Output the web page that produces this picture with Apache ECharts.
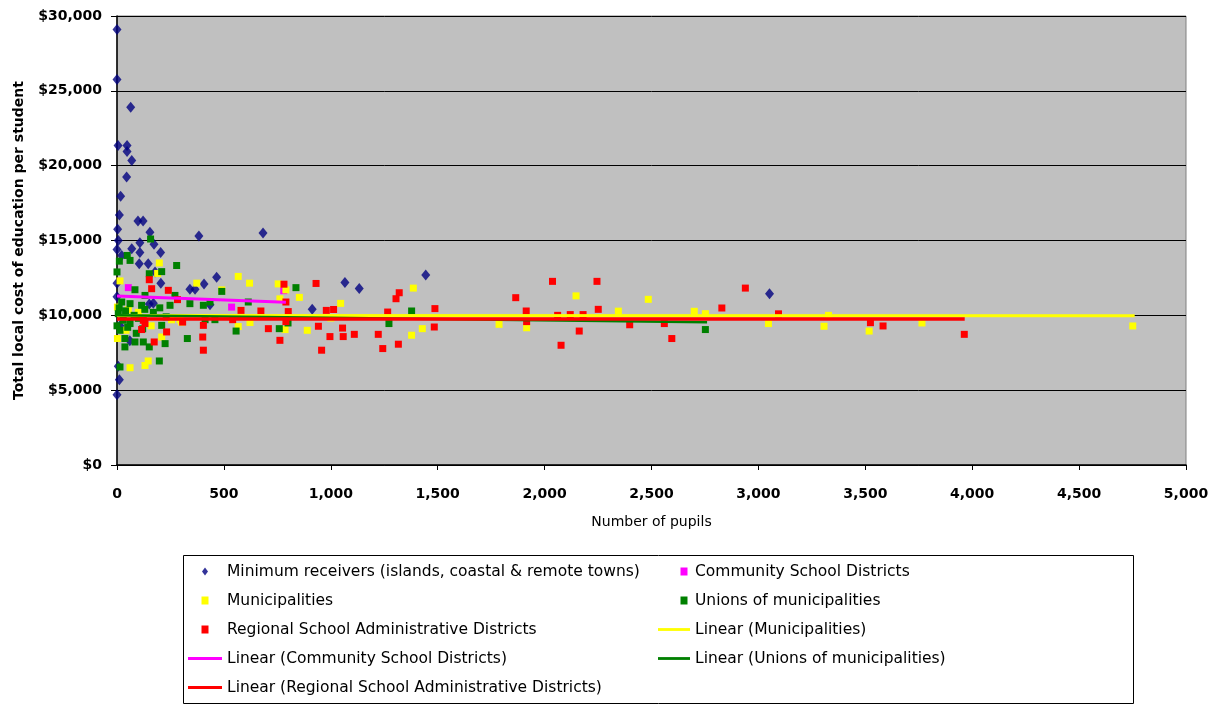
<!DOCTYPE html>
<html>
<head>
<meta charset="utf-8">
<script src="https://cdn.jsdelivr.net/npm/echarts@6/dist/echarts.min.js"></script>
<style>
html,body{margin:0;padding:0;background:#fff;}
#chart{width:1223px;height:705px;}
</style>
</head>
<body>
<div id="chart"></div>
<script>
// ---- data (pupils, cost per student) ----
const minReceivers = [
  [0,29100],[0,25750],[64,23900],[5,21350],[47,21350],[47,20950],[69,20350],[45,19250],
  [17,17950],[11,16700],[3,15750],[98,16300],[122,16300],[154,15550],[383,15300],[683,15500],
  [6,15000],[107,14850],[173,14750],[0,14400],[69,14450],[107,14200],[204,14200],[22,14000],
  [104,13450],[146,13450],[178,12900],[466,12550],[0,12150],[205,12150],[341,11750],[365,11750],
  [407,12100],[1066,12200],[1133,11800],[1444,12700],[0,11250],[170,10800],[435,10700],[913,10400],
  [3052,11450],[151,10750],[14,9300],[60,8300],[6,6600],[11,5700],[0,4700]
];
const communitySD = [[53,11850],[536,10550],[780,11650]];
const municipalities = [
  [198,13500],[190,12800],[14,12300],[373,12150],[567,12600],[620,12150],[754,12100],[853,11200],
  [790,11700],[762,11100],[1046,10800],[490,11700],[2,10550],[2,8450],[61,6500],[131,6650],
  [146,6950],[622,9520],[567,9250],[786,9050],[890,9000],[1000,9820],[295,9700],[209,8550],
  [42,9000],[255,9700],[302,9550],[53,10380],[100,10200],[160,9300],
  [1386,11820],[1378,8670],[1428,9110],[1787,9400],[1916,9170],[2147,11300],[2345,10280],
  [2485,11070],[2700,10270],[2752,10110],[3047,9450],[3307,9270],[3328,10000],[3518,8950],
  [3765,9490],[4751,9290]
];
const unions = [
  [157,15100],[11,13620],[61,13670],[48,14000],[279,13330],[209,12920],[0,12900],[151,12780],
  [84,11710],[131,11330],[22,10890],[61,10780],[115,10670],[248,10670],[341,10780],[404,10670],
  [435,10890],[6,10110],[29,9670],[61,9450],[14,9000],[209,9330],[37,8450],[84,8220],[37,7890],
  [123,8220],[151,7890],[225,8110],[329,8450],[198,6950],[14,6550],[837,11850],[490,11600],
  [614,10890],[271,11330],[557,8950],[759,9110],[412,9710],[458,9710],[800,9490],[1378,10290],
  [1272,9450],[2752,9050],
  [10,10500],[40,10300],[80,10000],[100,9800],[130,10400],[170,10200],[50,9200],[90,8800],
  [0,9300],[120,9100],[200,10500],[230,9900]
];
const regional = [
  [151,12380],[162,11780],[240,11670],[283,11050],[781,12080],[931,12130],[131,9450],[115,9050],
  [123,9670],[232,8890],[174,8220],[307,9550],[404,9330],[401,8550],[404,7670],[580,10330],
  [673,10290],[708,9110],[762,8330],[801,10250],[790,10890],[942,9270],[957,7670],[996,8580],
  [979,10330],[1013,10390],[1055,9150],[1058,8580],[541,9710],[790,9580],[1110,8730],[1222,8730],
  [1243,7780],[1266,10220],[1316,8070],[1305,11110],[1320,11510],[1487,10450],[1484,9220],
  [2037,12270],[2245,12270],[1865,11180],[1914,10290],[1916,9580],[2061,10000],[2120,10050],
  [2180,10050],[2077,8000],[2162,8950],[2251,10400],[2398,9370],[2560,9450],[2595,8450],
  [2829,10490],[2939,11820],[3094,10100],[3524,9510],[3583,9290],[3963,8730]
];
// trend line end points
const linMunicipalities = [[0,9990],[4760,9980]];
const linCommunity = [[0,11300],[790,10880]];
const linUnions = [[0,10000],[2760,9540]];
const linRegional = [[0,9750],[3965,9750]];

const yTicks = {min:0, max:30000, interval:5000};
const xTicks = {min:0, max:5000, interval:500};

const NAMES = {
  min:'Minimum receivers (islands, coastal & remote towns)',
  com:'Community School Districts',
  mun:'Municipalities',
  uni:'Unions of municipalities',
  reg:'Regional School Administrative Districts',
  lmun:'Linear (Municipalities)',
  lcom:'Linear (Community School Districts)',
  luni:'Linear (Unions of municipalities)',
  lreg:'Linear (Regional School Administrative Districts)'
};

function commas(v){ return String(v).replace(/\B(?=(\d{3})+(?!\d))/g, ','); }

const FONT = 'DejaVu Sans';
const chart = echarts.init(document.getElementById('chart'), null, {renderer:'canvas'});

function sq(name, data, color){
  return {name, type:'scatter', data, symbol:'rect', symbolSize:7,
    itemStyle:{color, opacity:1}, emphasis:{disabled:true}};
}
function ln(name, data, color, w){
  return {name, type:'line', data, symbol:'none', showSymbol:false,
    lineStyle:{color, width:w}, itemStyle:{color}, emphasis:{disabled:true}};
}

const ICON_SQ = 'path://M0 0H7V8H0Z';
const ICON_SQ2 = 'path://M0 4M20 0H27V8H20Z';
const ICON_DIA = 'path://M3 0L6 4L3 8L0 4Z';
const ICON_LN = 'path://M0 0H34V3H0Z';
const legendText = {fontFamily:FONT, fontSize:15.5, color:'#000', lineHeight:29};
const legendBase = {orient:'vertical', top:557, itemHeight:8, itemGap:0, padding:0,
  selectedMode:false, textStyle:legendText, symbolKeepAspect:true};

chart.setOption({
  animation:false,
  backgroundColor:'#ffffff',
  grid:{left:117, right:37, top:16, bottom:240, show:true,
        backgroundColor:'#C0C0C0', borderColor:'#808080', borderWidth:1},
  xAxis:{type:'value', min:xTicks.min, max:xTicks.max, interval:xTicks.interval,
    name:'Number of pupils', nameLocation:'middle', nameGap:50,
    nameTextStyle:{fontFamily:FONT, fontSize:14, color:'#000'},
    axisLine:{show:true, onZero:false, lineStyle:{color:'#000', width:1.5}},
    axisTick:{show:true, inside:false, length:5, lineStyle:{color:'#000'}},
    axisLabel:{fontFamily:FONT, fontSize:14, fontWeight:'bold', color:'#000', margin:22,
      formatter:v=>commas(v)},
    splitLine:{show:false}},
  yAxis:{type:'value', min:yTicks.min, max:yTicks.max, interval:yTicks.interval,
    name:'Total local cost of education per student', nameLocation:'middle', nameGap:91,
    nameTextStyle:{fontFamily:FONT, fontSize:14, fontWeight:'bold', color:'#000'},
    axisLine:{show:true, onZero:false, lineStyle:{color:'#000', width:1.5}},
    axisTick:{show:true, inside:false, length:6, lineStyle:{color:'#000'}},
    axisLabel:{fontFamily:FONT, fontSize:14, fontWeight:'bold', color:'#000', margin:15,
      formatter:v=>'$'+commas(v)},
    splitLine:{show:true, lineStyle:{color:'#000', width:1}}},
  legend:[
    Object.assign({}, legendBase, {left:188, itemWidth:34,
     data:[{name:NAMES.min, icon:ICON_DIA},{name:NAMES.mun, icon:ICON_SQ},{name:NAMES.reg, icon:ICON_SQ},
           {name:NAMES.lcom, icon:ICON_LN},{name:NAMES.lreg, icon:ICON_LN}]}),
    Object.assign({}, legendBase, {left:658, itemWidth:32,
     data:[{name:NAMES.com, icon:ICON_SQ2},{name:NAMES.uni, icon:ICON_SQ2},
           {name:NAMES.lmun, icon:ICON_LN},{name:NAMES.luni, icon:ICON_LN}]})
  ],
  graphic:[{type:'rect', shape:{x:183.5, y:555.5, width:950, height:148},
    style:{fill:'none', stroke:'#000', lineWidth:1}, silent:true, z:-1}],
  series:[
    {name:NAMES.min, type:'scatter', data:minReceivers, symbol:'diamond', symbolSize:[9,11],
     itemStyle:{color:'#000080'}, emphasis:{disabled:true}},
    sq(NAMES.com, communitySD, '#FF00FF'),
    sq(NAMES.mun, municipalities, '#FFFF00'),
    sq(NAMES.uni, unions, '#008000'),
    sq(NAMES.reg, regional, '#FF0000'),
    ln(NAMES.lmun, linMunicipalities, '#FFFF00', 3),
    ln(NAMES.lcom, linCommunity, '#FF00FF', 3),
    ln(NAMES.luni, linUnions, '#008000', 2.5),
    ln(NAMES.lreg, linRegional, '#FF0000', 3.5)
  ]
});
</script>
</body>
</html>
